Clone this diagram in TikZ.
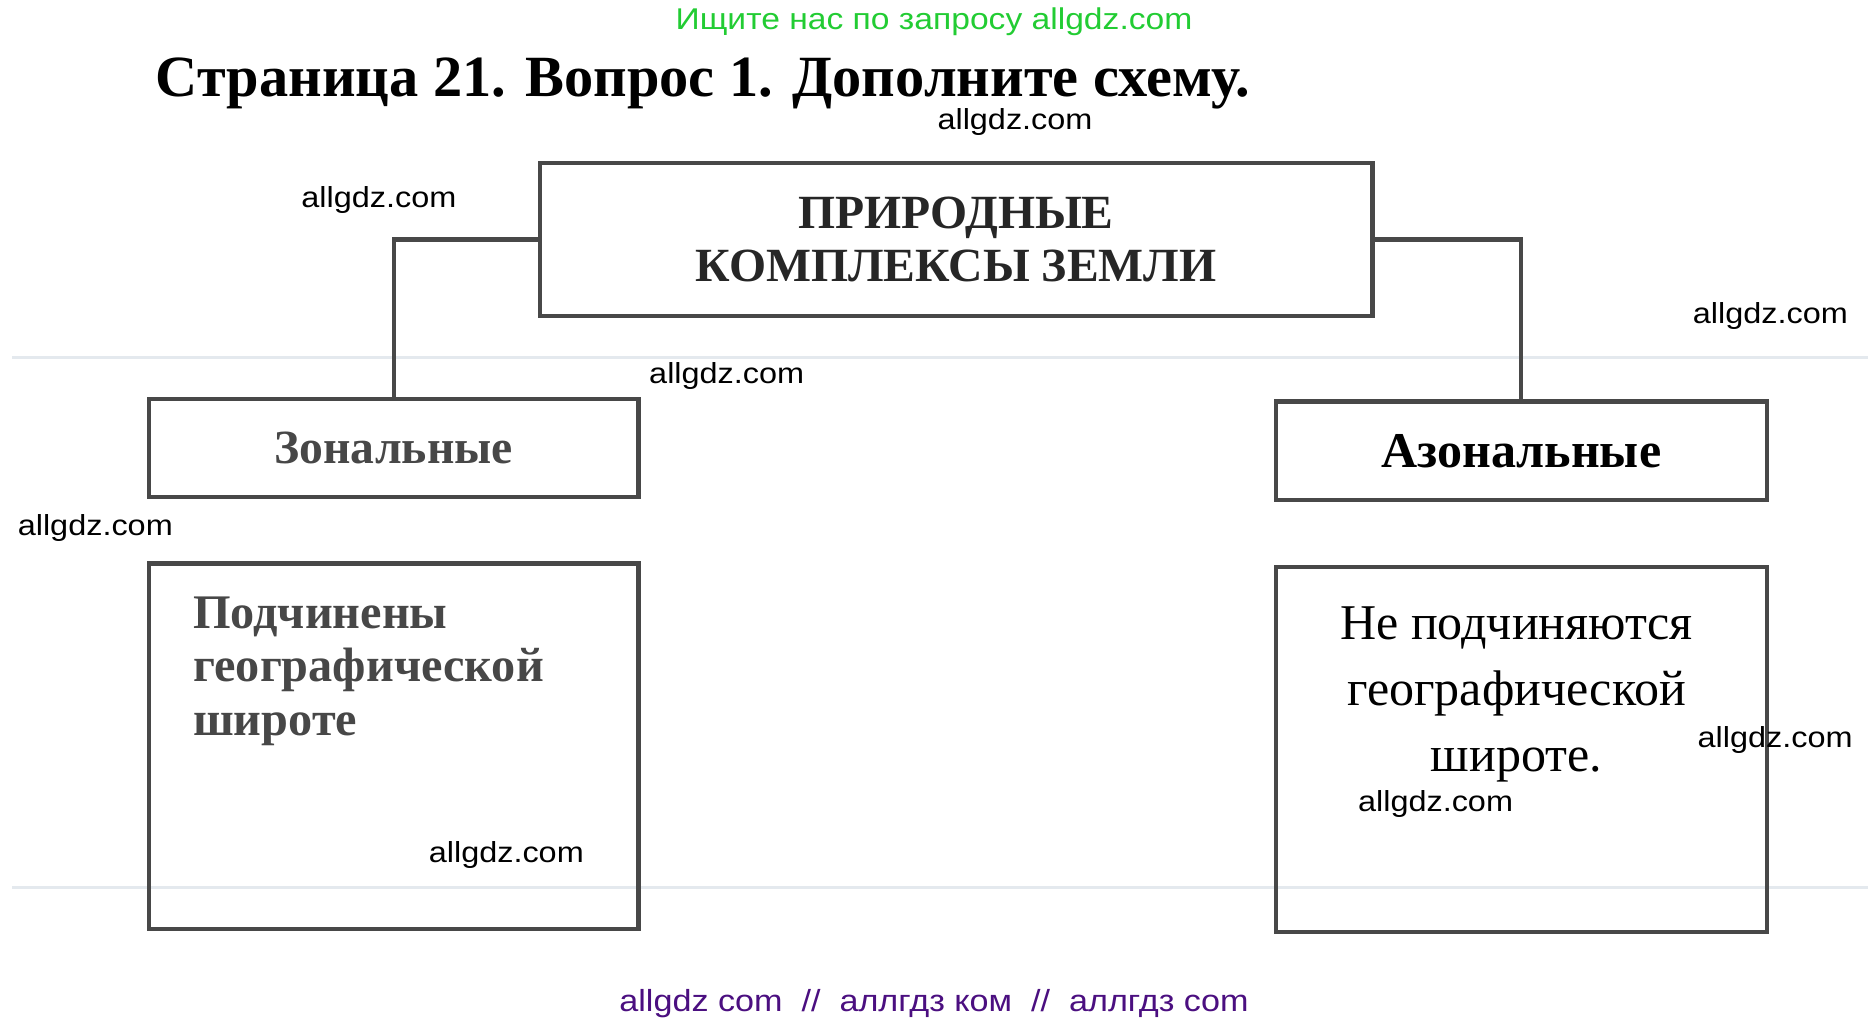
\documentclass[tikz,border=0pt]{standalone}
\usepackage{fontspec}
\setmainfont{Liberation Serif}
\newfontfamily\wmfont[FakeStretch=1.12]{Liberation Sans}
\definecolor{sitegreen}{RGB}{34,204,51}
\definecolor{sitepurple}{RGB}{75,15,128}
\definecolor{boxgray}{RGB}{72,72,72}
\definecolor{scangray}{RGB}{228,233,238}

\begin{document}
\begin{tikzpicture}[x=1pt,y=-1pt]

      \useasboundingbox (0,0) rectangle (1568,860.4);

      % faint lines of the scanned page
      \draw[scangray,line width=2pt] (10,300) -- (1568,300);
      \draw[scangray,line width=2pt] (10,745) -- (1568,745);

      \node[anchor=base] (ask) at (784,25) {\wmfont\fontsize{25.2}{29}\selectfont\color{sitegreen}Ищите нас по запросу allgdz.com};
      \node[anchor=base] (title) at (590,81) {\fontsize{49}{55}\selectfont\bfseries Страница 21. Вопрос 1. Дополните схему.};

      \begin{scope}[every node/.style={rectangle,draw=boxgray,line width=3.5pt,inner sep=0pt}]
        \node[minimum width=699,minimum height=128,align=center,text=black!85,
              font=\fontsize{40}{44}\selectfont\bfseries] (top) at (802.5,201)
              {ПРИРОДНЫЕ\\КОМПЛЕКСЫ ЗЕМЛИ};
        \node[minimum width=411,minimum height=82,text=black!72,
              font=\fontsize{40}{44}\selectfont\bfseries] (zon) at (330.5,376) {Зональные};
        \node[minimum width=412,minimum height=83,
              font=\fontsize{42}{46}\selectfont\bfseries] (azon) at (1277,378.5) {Азональные};
        \node[minimum width=411,minimum height=307] (zonbox) at (330.5,626.5) {};
        \node[minimum width=412,minimum height=306] (azonbox) at (1277,629) {};
      \end{scope}

      \begin{scope}[every node/.style={inner sep=0pt}]
        \node[anchor=north west,align=left,text=black!72,
              font=\fontsize{40.5}{45}\selectfont\bfseries] (zontext) at (162,500.5)
              {Подчинены\\географической\\широте};
        \node[anchor=north,align=center,
              font=\fontsize{42}{55.5}\selectfont] (azontext) at (1273,509)
              {Не подчиняются\\географической\\широте.};
      \end{scope}

      \begin{scope}[boxgray,line width=3.5pt]
        \draw (top.west) -| (zon.north);
        \draw (top.east) -| (azon.north);
      \end{scope}

      \begin{scope}[every node/.style={font=\wmfont\fontsize{24.3}{28}\selectfont,inner sep=1pt}]
        \node (w1) at (852,102)  {allgdz.com};
        \node (w2) at (318,168)  {allgdz.com};
        \node (w3) at (1486,265) {allgdz.com};
        \node (w4) at (610,316)  {allgdz.com};
        \node (w5) at (80,443)   {allgdz.com};
        \node (w6) at (425,718)  {allgdz.com};
        \node (w7) at (1490,621) {allgdz.com};
        \node (w8) at (1205,675) {allgdz.com};
      \end{scope}

      \node[anchor=base] (links) at (784,849) {\wmfont\fontsize{25.6}{30}\selectfont\color{sitepurple}allgdz com \ // \ аллгдз ком \ // \ аллгдз com};

    \end{tikzpicture}
\end{document}
